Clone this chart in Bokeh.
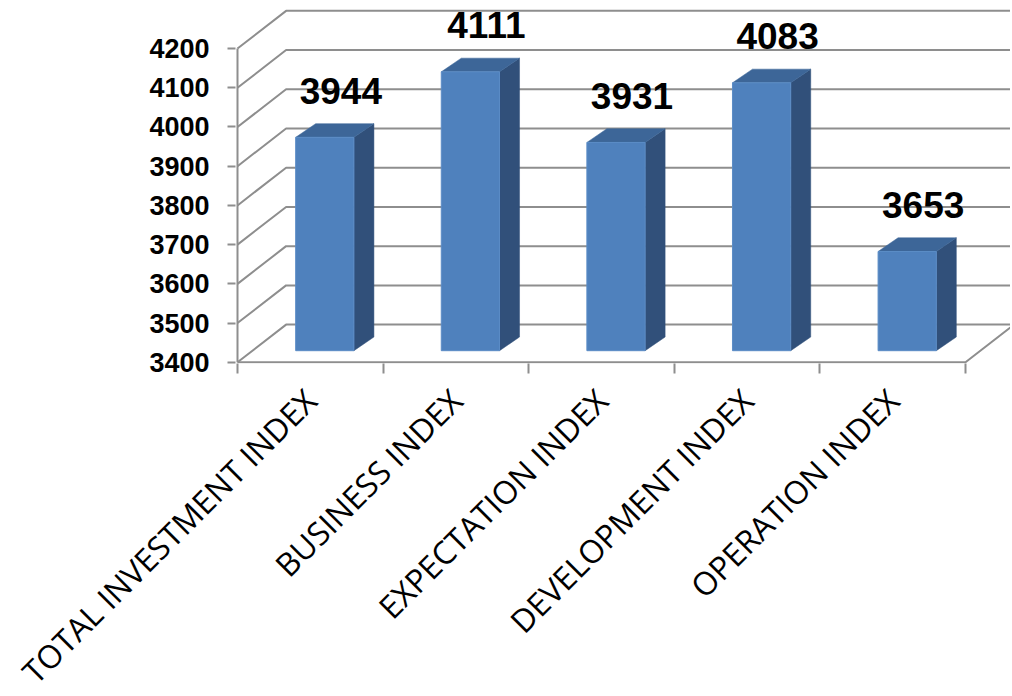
import math
from bokeh.plotting import figure
from bokeh.models import Range1d, FixedTicker
from bokeh.core.properties import value
from bokeh.embed import file_html
from bokeh.resources import INLINE

# ---- data ----
categories = ["TOTAL INVESTMENT INDEX", "BUSINESS INDEX", "EXPECTATION INDEX",
              "DEVELOPMENT INDEX", "OPERATION INDEX"]
values = [3944, 4111, 3931, 4083, 3653]
y_ticks = [3400, 3500, 3600, 3700, 3800, 3900, 4000, 4100, 4200]

# ---- geometry / style constants ----
PX_CAT = 145.6          # pixels per category
PX_VAL = 0.3922         # pixels per value unit
FRAME_W = 775
FRAME_H = 355
BASE = y_ticks[0]
TOP = y_ticks[-1]
NCAT = len(categories)

x0 = -2 / PX_CAT
x1 = x0 + FRAME_W / PX_CAT
y0 = BASE - 1.2 / PX_VAL
y1 = y0 + FRAME_H / PX_VAL

WDX = 48.6 / PX_CAT      # back wall depth offset (x)
WDY = 37.7 / PX_VAL      # back wall depth offset (y)
BF_DX = 14.5 / PX_CAT    # bar front face depth offset
BF_DY = 11.6 / PX_VAL
SDX = 20.0 / PX_CAT      # bar side depth
SDY = 13.7 / PX_VAL
BAR_W = 0.40
LABEL_DX = 16.0 / PX_CAT
LABEL_DY = 148

GRID = "#8e8e8e"
FRONT = "#4F81BD"
TOPC = "#3D6698"
SIDE = "#31507A"

p = figure(frame_width=FRAME_W, frame_height=FRAME_H,
           x_range=Range1d(x0, x1), y_range=Range1d(y0, y1),
           output_backend="svg", toolbar_location=None,
           min_border_left=235, min_border_top=8, min_border_right=0,
           min_border_bottom=329, outline_line_color=None,
           background_fill_color="white", border_fill_color="white")
p.xgrid.visible = False
p.ygrid.visible = False

# back wall + side wall gridlines
gx, gy = [], []
for v in y_ticks:
    gx.append([0, WDX, x1 + 1])
    gy.append([v, v + WDY, v + WDY])
p.multi_line(gx, gy, line_color=GRID, line_width=2)

# floor front edge + right diagonal, front value axis line
p.multi_line([[0, NCAT, NCAT + WDX], [0, 0]],
             [[BASE, BASE, BASE + WDY], [BASE, TOP]],
             line_color=GRID, line_width=2)

# bars
side_xs, side_ys, top_xs, top_ys = [], [], [], []
lefts, rights, bottoms, tops = [], [], [], []
lab_x, lab_y = [], []
for i, v in enumerate(values):
    c = i + 0.5 + BF_DX
    L, R = c - BAR_W / 2, c + BAR_W / 2
    b = BASE + BF_DY
    t = v + BF_DY
    side_xs.append([R, R + SDX, R + SDX, R])
    side_ys.append([b, b + SDY, t + SDY, t])
    top_xs.append([L, R, R + SDX, L + SDX])
    top_ys.append([t, t, t + SDY, t + SDY])
    lefts.append(L); rights.append(R); bottoms.append(b); tops.append(t)
    lab_x.append(c + LABEL_DX)
    lab_y.append(v + LABEL_DY)

p.patches(side_xs, side_ys, fill_color=SIDE, line_color=SIDE, line_width=0.5)
p.patches(top_xs, top_ys, fill_color=TOPC, line_color=TOPC, line_width=0.5)
p.quad(left=lefts, right=rights, bottom=bottoms, top=tops,
       fill_color=FRONT, line_color="#5b8cc6", line_width=1)

p.text(x=lab_x, y=lab_y, text=[str(v) for v in values],
       text_align="center", text_baseline="alphabetic",
       text_font=value("Liberation Sans"), text_font_style="bold",
       text_font_size="37px", text_color="black")

# y axis
ya = p.yaxis[0]
ya.ticker = FixedTicker(ticks=y_ticks)
ya.axis_line_color = None
ya.major_tick_in = 0
ya.major_tick_out = 8
ya.major_tick_line_color = GRID
ya.major_tick_line_width = 2
ya.minor_tick_line_color = None
ya.major_label_standoff = 18
ya.major_label_text_font = "Liberation Sans"
ya.major_label_text_font_style = "bold"
ya.major_label_text_font_size = "27px"
ya.major_label_text_color = "black"

# x axis
xa = p.xaxis[0]
centers = [i + 0.5 for i in range(NCAT)]
xa.ticker = FixedTicker(ticks=centers, minor_ticks=list(range(NCAT + 1)))
xa.major_label_overrides = {c: name for c, name in zip(centers, categories)}
xa.axis_line_color = None
xa.major_tick_in = 0
xa.major_tick_out = 0
xa.minor_tick_in = 0
xa.minor_tick_out = 10
xa.minor_tick_line_color = GRID
xa.minor_tick_line_width = 2
xa.major_label_orientation = math.pi / 4
xa.major_label_standoff = 21
xa.major_label_text_font = "Open Sans"
xa.major_label_text_font_size = "32px"
xa.major_label_text_color = "black"

open("out.html", "w").write(file_html(p, INLINE))
